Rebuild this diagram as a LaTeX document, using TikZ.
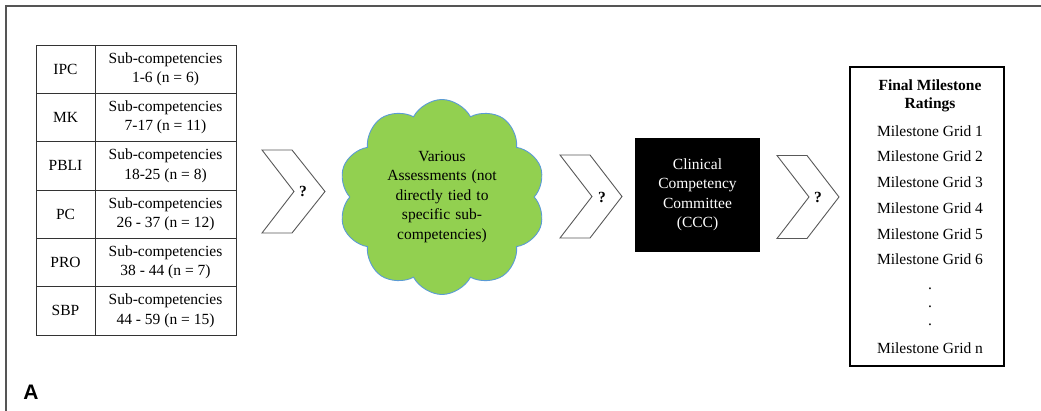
\documentclass[tikz,border=0pt]{standalone}
\usepackage{fontspec}
\setmainfont{Liberation Serif}
\newfontfamily\panelfont{Liberation Sans}
\usetikzlibrary{shapes.symbols}
\definecolor{cloudgreen}{HTML}{92D050}
\definecolor{cloudline}{HTML}{5B9BD5}
\definecolor{framegray}{HTML}{555555}
\tikzset{
  cell/.style={draw=black!80, line width=0.9, minimum height=48.33, inner sep=0pt, align=center},
  abbrcell/.style={cell, minimum width=59},
  subcell/.style={cell, minimum width=141},
  chev/.style={draw=black!65, line width=0.9, fill=white},
  qmark/.style={font=\fontsize{15.5}{19}\selectfont\bfseries}
}

\begin{document}
\begin{tikzpicture}[x=1pt, y=-1pt, font=\fontsize{15.5}{19.5}\selectfont]
    \useasboundingbox (0,0) rectangle (1041,411);
    % panel frame
    \draw[framegray, line width=2] (6,411) -- (6,6) -- (1041,6);
    \node[font=\panelfont\fontsize{21}{21}\selectfont\bfseries] (panel) at (31,392) {A};

    % competency table
    \foreach \abbr/\range [count=\i] in {IPC/1-6 (n = 6), MK/7-17 (n = 11), PBLI/18-25 (n = 8),
        PC/26 - 37 (n = 12), PRO/38 - 44 (n = 7), SBP/44 - 59 (n = 15)}{
        \node[abbrcell] (abbr\i) at (65.5, {45+48.33*(\i-0.5)}) {\abbr};
        \node[subcell] (sub\i) at (165.5, {45+48.33*(\i-0.5)}) {Sub-competencies\\\range};
    }

    % first chevron
    \draw[chev] (262,150) -- ++(30,0) -- ++(33,41.5) -- ++(-33,41.5) -- ++(-30,0) -- ++(32,-41.5) -- cycle;
    \node[qmark] (q1) at (303,191) {?};

    \node[cloud, cloud puffs=10, cloud puff arc=125, aspect=1.05, draw=cloudline, line width=0.9,
        fill=cloudgreen, minimum width=207, minimum height=195, text width=118, align=center,
        inner sep=0pt] (assess) at (442,197)
        {Various\\Assessments (not\\directly tied to\\specific sub-\\competencies)};

    % second chevron
    \draw[chev] (560,155) -- ++(30,0) -- ++(32,41.5) -- ++(-32,41.5) -- ++(-30,0) -- ++(32,-41.5) -- cycle;
    \node[qmark] (q2) at (602,197) {?};

    \node[fill=black, text=white, minimum width=125, minimum height=114, align=center,
        inner sep=0pt] (ccc) at (697.5,195) {Clinical\\Competency\\Committee\\(CCC)};

    % third chevron
    \draw[chev] (777,155.5) -- ++(30,0) -- ++(32,41.5) -- ++(-32,41.5) -- ++(-30,0) -- ++(32,-41.5) -- cycle;
    \node[qmark] (q3) at (818,197) {?};

    % final ratings
    \node[draw, line width=1.6, minimum width=154, minimum height=299, inner sep=0pt] (ratings) at (927,216.5) {};
    \node[font=\fontsize{15.5}{18}\selectfont\bfseries, align=center] (title) at (930,96) {Final Milestone\\Ratings};
    \foreach \g in {1,...,6}
        \node (grid\g) at (930, {131+25.7*(\g-1)}) {Milestone Grid \g};
    \foreach \y [count=\d] in {289,307,325}
        \node[inner sep=0pt] (dot\d) at (930,\y) {.};
    \node (gridn) at (930,348) {Milestone Grid n};
\end{tikzpicture}
\end{document}
